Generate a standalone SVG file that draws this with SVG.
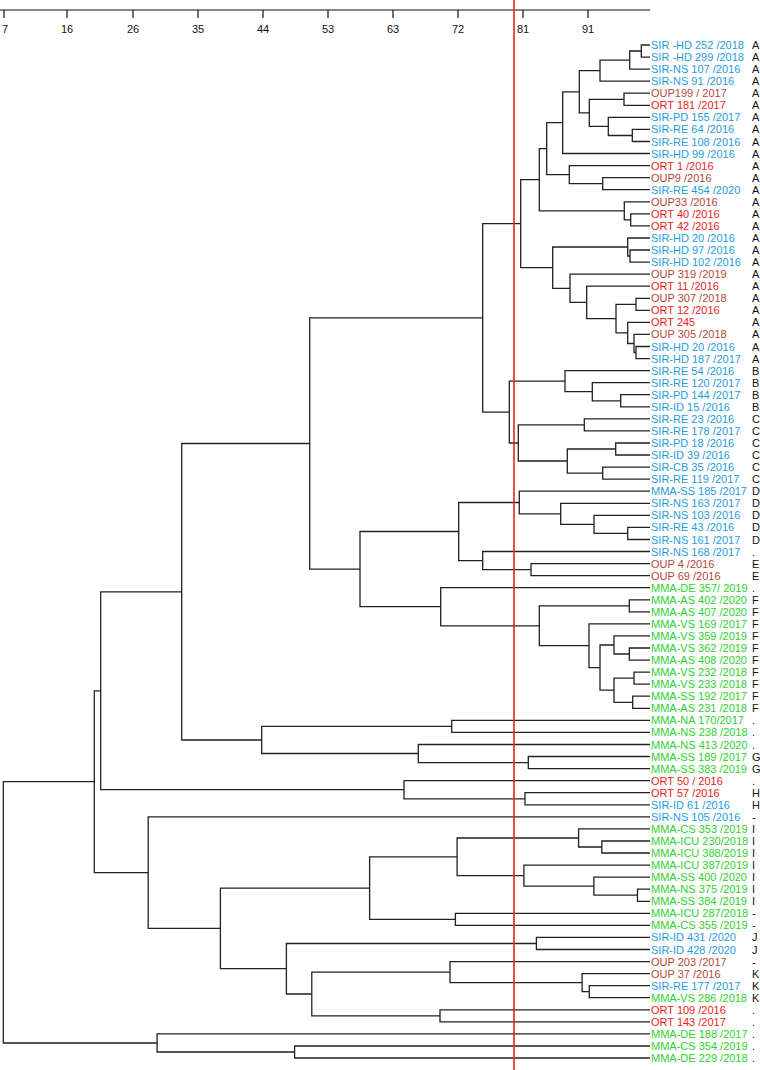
<svg xmlns="http://www.w3.org/2000/svg" width="760" height="1070" viewBox="0 0 760 1070">
<style>
text{font-family:"Liberation Sans",Arial,sans-serif;font-size:11px}
.s{fill:#1f9ce0}.r{fill:#ee1c1c}.o{fill:#b5473a}.m{fill:#2fd12f}.c{fill:#111}
.ax{fill:#111;text-anchor:middle}
.ln path{fill:none;stroke:#222;stroke-width:1.3}
</style>
<rect width="760" height="1070" fill="#fff"/>
<g id="axis" stroke="#111" stroke-width="1.2">
<line x1="0" y1="10" x2="650" y2="10"/>
<path d="M4 10V18M67 10V18M133 10V18M198 10V18M263 10V18M328 10V18M393 10V18M458 10V18M523 10V18M588 10V18" fill="none"/>
</g>
<g id="axis-labels">
<text class="ax" x="5" y="33">7</text><text class="ax" x="67" y="33">16</text><text class="ax" x="133" y="33">26</text><text class="ax" x="198" y="33">35</text><text class="ax" x="263" y="33">44</text><text class="ax" x="328" y="33">53</text><text class="ax" x="393" y="33">63</text><text class="ax" x="458" y="33">72</text><text class="ax" x="523" y="33">81</text><text class="ax" x="588" y="33">91</text>
</g>
<g id="connectors" class="ln">
<path d="M650 45H641.3V57.1H650"/><path d="M641.3 51H629.7V69.1H650"/><path d="M629.7 60.1H600V81.2H650"/>
<path d="M650 93.2H624V105.3H650"/><path d="M650 129.4H632.3V141.5H650"/><path d="M650 117.4H608.3V135.5H632.3"/>
<path d="M624 99.3H589.3V126.4H608.3"/><path d="M600 70.6H579.3V112.9H589.3"/><path d="M579.3 91.8H562.7V153.5H650"/>
<path d="M650 177.7H602.7V189.7H650"/><path d="M650 165.6H569.3V183.7H602.7"/><path d="M562.7 122.6H546.7V174.6H569.3"/>
<path d="M650 213.8H630.7V225.9H650"/><path d="M650 201.8H624.3V219.9H630.7"/><path d="M546.7 148.6H539.3V210.8H624.3"/>
<path d="M650 250H630V262.1H650"/><path d="M650 238H627.7V256H630"/><path d="M650 298.3H636V310.3H650"/>
<path d="M650 346.5H636V358.6H650"/><path d="M650 334.4H634V352.5H636"/><path d="M650 322.4H627.7V343.5H634"/>
<path d="M636 304.3H616V332.9H627.7"/><path d="M650 286.2H586.7V318.6H616"/><path d="M650 274.1H570V302.4H586.7"/>
<path d="M627.7 247H552.7V288.3H570"/><path d="M539.3 179.7H520.7V267.6H552.7"/>
<path d="M650 394.7H620.7V406.8H650"/><path d="M650 382.7H592.3V400.8H620.7"/><path d="M650 370.6H565V391.7H592.3"/>
<path d="M650 418.9H584.3V430.9H650"/><path d="M650 443H615.7V455H650"/><path d="M650 467.1H602.7V479.2H650"/>
<path d="M615.7 449H567.3V473.1H602.7"/><path d="M584.3 424.9H518.3V461H567.3"/><path d="M565 381.2H509.3V443H518.3"/>
<path d="M520.7 223.7H482.7V412.1H509.3"/>
<path d="M650 527.4H627.7V539.5H650"/><path d="M650 515.3H594V533.4H627.7"/><path d="M650 503.3H560.7V524.4H594"/>
<path d="M650 491.2H519.3V513.8H560.7"/><path d="M650 563.6H531V575.6H650"/><path d="M650 551.5H482.7V569.6H531"/>
<path d="M519.3 502.5H458.7V560.6H482.7"/>
<path d="M650 599.8H629.3V611.8H650"/><path d="M650 648H629.3V660.1H650"/><path d="M650 635.9H614V654H629.3"/>
<path d="M650 672.1H634V684.2H650"/><path d="M650 696.2H632.7V708.3H650"/><path d="M634 678.1H614V702.3H632.7"/>
<path d="M614 645H600V690.2H614"/><path d="M650 623.9H589V667.6H600"/><path d="M629.3 605.8H539.3V645.7H589"/>
<path d="M650 587.7H440.7V625.8H539.3"/><path d="M458.7 531.5H360V606.7H440.7"/><path d="M482.7 317.9H309.7V569.1H360"/>
<path d="M650 720.4H451.7V732.4H650"/><path d="M650 756.5H528.3V768.6H650"/><path d="M650 744.5H418.3V762.6H528.3"/>
<path d="M451.7 726.4H261.7V753.5H418.3"/><path d="M309.7 443.5H181.7V740H261.7"/>
<path d="M650 792.7H525V804.8H650"/><path d="M650 780.7H404V798.8H525"/><path d="M181.7 591.8H100.7V789.7H404"/>
<path d="M650 841H601.8V853H650"/><path d="M650 828.9H578.6V847H601.8"/><path d="M650 889.2H637.5V901.3H650"/>
<path d="M650 877.1H593.9V895.2H637.5"/><path d="M650 865.1H523.9V886.2H593.9"/><path d="M578.6 838H457.1V875.6H523.9"/>
<path d="M650 913.3H455.4V925.4H650"/><path d="M457.1 856.8H369.6V919.4H455.4"/><path d="M650 937.4H536.4V949.5H650"/>
<path d="M650 985.7H589.3V997.7H650"/><path d="M650 973.6H582.1V991.7H589.3"/><path d="M650 961.6H450V982.7H582.1"/>
<path d="M650 1009.8H440V1021.9H650"/><path d="M450 972.1H311.8V1015.8H440"/><path d="M536.4 943.5H286.4V994H311.8"/>
<path d="M369.6 888.1H220.4V968.7H286.4"/><path d="M650 816.8H148.2V928.4H220.4"/><path d="M100.7 690.8H94.3V872.6H148.2"/>
<path d="M650 1046H294.6V1058H650"/><path d="M650 1033.9H157.1V1052H294.6"/><path d="M94.3 781.7H3.3V1043H157.1"/>
</g>
<line id="cutoff" x1="514" y1="0" x2="514" y2="1070" stroke="#e02626" stroke-width="1.6"/>
<g id="n1"><text class="s" x="651" y="49">SIR -HD 252 /2018</text><text class="c" x="752" y="49">A</text></g>
<g id="n2"><text class="s" x="651" y="61.1">SIR -HD 299 /2018</text><text class="c" x="752" y="61.1">A</text></g>
<g id="n3"><text class="s" x="651" y="73.1">SIR-NS 107 /2016</text><text class="c" x="752" y="73.1">A</text></g>
<g id="n4"><text class="s" x="651" y="85.2">SIR-NS 91 /2016</text><text class="c" x="752" y="85.2">A</text></g>
<g id="n5"><text class="o" x="651" y="97.2">OUP199 / 2017</text><text class="c" x="752" y="97.2">A</text></g>
<g id="n6"><text class="r" x="651" y="109.3">ORT 181 /2017</text><text class="c" x="752" y="109.3">A</text></g>
<g id="n7"><text class="s" x="651" y="121.4">SIR-PD 155 /2017</text><text class="c" x="752" y="121.4">A</text></g>
<g id="n8"><text class="s" x="651" y="133.4">SIR-RE 64 /2016</text><text class="c" x="752" y="133.4">A</text></g>
<g id="n9"><text class="s" x="651" y="145.5">SIR-RE 108 /2016</text><text class="c" x="752" y="145.5">A</text></g>
<g id="n10"><text class="s" x="651" y="157.5">SIR-HD 99 /2016</text><text class="c" x="752" y="157.5">A</text></g>
<g id="n11"><text class="r" x="651" y="169.6">ORT 1 /2016</text><text class="c" x="752" y="169.6">A</text></g>
<g id="n12"><text class="o" x="651" y="181.7">OUP9 /2016</text><text class="c" x="752" y="181.7">A</text></g>
<g id="n13"><text class="s" x="651" y="193.7">SIR-RE 454 /2020</text><text class="c" x="752" y="193.7">A</text></g>
<g id="n14"><text class="o" x="651" y="205.8">OUP33 /2016</text><text class="c" x="752" y="205.8">A</text></g>
<g id="n15"><text class="r" x="651" y="217.8">ORT 40 /2016</text><text class="c" x="752" y="217.8">A</text></g>
<g id="n16"><text class="r" x="651" y="229.9">ORT 42 /2016</text><text class="c" x="752" y="229.9">A</text></g>
<g id="n17"><text class="s" x="651" y="242">SIR-HD 20 /2016</text><text class="c" x="752" y="242">A</text></g>
<g id="n18"><text class="s" x="651" y="254">SIR-HD 97 /2016</text><text class="c" x="752" y="254">A</text></g>
<g id="n19"><text class="s" x="651" y="266.1">SIR-HD 102 /2016</text><text class="c" x="752" y="266.1">A</text></g>
<g id="n20"><text class="o" x="651" y="278.1">OUP 319 /2019</text><text class="c" x="752" y="278.1">A</text></g>
<g id="n21"><text class="r" x="651" y="290.2">ORT 11 /2016</text><text class="c" x="752" y="290.2">A</text></g>
<g id="n22"><text class="o" x="651" y="302.3">OUP 307 /2018</text><text class="c" x="752" y="302.3">A</text></g>
<g id="n23"><text class="r" x="651" y="314.3">ORT 12 /2016</text><text class="c" x="752" y="314.3">A</text></g>
<g id="n24"><text class="r" x="651" y="326.4">ORT 245</text><text class="c" x="752" y="326.4">A</text></g>
<g id="n25"><text class="o" x="651" y="338.4">OUP 305 /2018</text><text class="c" x="752" y="338.4">A</text></g>
<g id="n26"><text class="s" x="651" y="350.5">SIR-HD 20 /2016</text><text class="c" x="752" y="350.5">A</text></g>
<g id="n27"><text class="s" x="651" y="362.6">SIR-HD 187 /2017</text><text class="c" x="752" y="362.6">A</text></g>
<g id="n28"><text class="s" x="651" y="374.6">SIR-RE 54 /2016</text><text class="c" x="752" y="374.6">B</text></g>
<g id="n29"><text class="s" x="651" y="386.7">SIR-RE 120 /2017</text><text class="c" x="752" y="386.7">B</text></g>
<g id="n30"><text class="s" x="651" y="398.7">SIR-PD 144 /2017</text><text class="c" x="752" y="398.7">B</text></g>
<g id="n31"><text class="s" x="651" y="410.8">SIR-ID 15 /2016</text><text class="c" x="752" y="410.8">B</text></g>
<g id="n32"><text class="s" x="651" y="422.9">SIR-RE 23 /2016</text><text class="c" x="752" y="422.9">C</text></g>
<g id="n33"><text class="s" x="651" y="434.9">SIR-RE 178 /2017</text><text class="c" x="752" y="434.9">C</text></g>
<g id="n34"><text class="s" x="651" y="447">SIR-PD 18 /2016</text><text class="c" x="752" y="447">C</text></g>
<g id="n35"><text class="s" x="651" y="459">SIR-ID 39 /2016</text><text class="c" x="752" y="459">C</text></g>
<g id="n36"><text class="s" x="651" y="471.1">SIR-CB 35 /2016</text><text class="c" x="752" y="471.1">C</text></g>
<g id="n37"><text class="s" x="651" y="483.2">SIR-RE 119 /2017</text><text class="c" x="752" y="483.2">C</text></g>
<g id="n38"><text class="s" x="651" y="495.2">MMA-SS 185 /2017</text><text class="c" x="752" y="495.2">D</text></g>
<g id="n39"><text class="s" x="651" y="507.3">SIR-NS 163 /2017</text><text class="c" x="752" y="507.3">D</text></g>
<g id="n40"><text class="s" x="651" y="519.3">SIR-NS 103 /2016</text><text class="c" x="752" y="519.3">D</text></g>
<g id="n41"><text class="s" x="651" y="531.4">SIR-RE 43 /2016</text><text class="c" x="752" y="531.4">D</text></g>
<g id="n42"><text class="s" x="651" y="543.5">SIR-NS 161 /2017</text><text class="c" x="752" y="543.5">D</text></g>
<g id="n43"><text class="s" x="651" y="555.5">SIR-NS 168 /2017</text><text class="c" x="752" y="555.5">.</text></g>
<g id="n44"><text class="o" x="651" y="567.6">OUP 4 /2016</text><text class="c" x="752" y="567.6">E</text></g>
<g id="n45"><text class="o" x="651" y="579.6">OUP 69 /2016</text><text class="c" x="752" y="579.6">E</text></g>
<g id="n46"><text class="m" x="651" y="591.7">MMA-DE 357/ 2019</text><text class="c" x="752" y="591.7">.</text></g>
<g id="n47"><text class="m" x="651" y="603.8">MMA-AS 402 /2020</text><text class="c" x="752" y="603.8">F</text></g>
<g id="n48"><text class="m" x="651" y="615.8">MMA-AS 407 /2020</text><text class="c" x="752" y="615.8">F</text></g>
<g id="n49"><text class="m" x="651" y="627.9">MMA-VS 169 /2017</text><text class="c" x="752" y="627.9">F</text></g>
<g id="n50"><text class="m" x="651" y="639.9">MMA-VS 359 /2019</text><text class="c" x="752" y="639.9">F</text></g>
<g id="n51"><text class="m" x="651" y="652">MMA-VS 362 /2019</text><text class="c" x="752" y="652">F</text></g>
<g id="n52"><text class="m" x="651" y="664.1">MMA-AS 408 /2020</text><text class="c" x="752" y="664.1">F</text></g>
<g id="n53"><text class="m" x="651" y="676.1">MMA-VS 232 /2018</text><text class="c" x="752" y="676.1">F</text></g>
<g id="n54"><text class="m" x="651" y="688.2">MMA-VS 233 /2018</text><text class="c" x="752" y="688.2">F</text></g>
<g id="n55"><text class="m" x="651" y="700.2">MMA-SS 192 /2017</text><text class="c" x="752" y="700.2">F</text></g>
<g id="n56"><text class="m" x="651" y="712.3">MMA-AS 231 /2018</text><text class="c" x="752" y="712.3">F</text></g>
<g id="n57"><text class="m" x="651" y="724.4">MMA-NA 170/2017</text><text class="c" x="752" y="724.4">.</text></g>
<g id="n58"><text class="m" x="651" y="736.4">MMA-NS 238 /2018</text><text class="c" x="752" y="736.4">.</text></g>
<g id="n59"><text class="m" x="651" y="748.5">MMA-NS 413 /2020</text><text class="c" x="752" y="748.5">.</text></g>
<g id="n60"><text class="m" x="651" y="760.5">MMA-SS 189 /2017</text><text class="c" x="752" y="760.5">G</text></g>
<g id="n61"><text class="m" x="651" y="772.6">MMA-SS 383 /2019</text><text class="c" x="752" y="772.6">G</text></g>
<g id="n62"><text class="r" x="651" y="784.7">ORT 50 / 2016</text><text class="c" x="752" y="784.7">.</text></g>
<g id="n63"><text class="r" x="651" y="796.7">ORT 57 /2016</text><text class="c" x="752" y="796.7">H</text></g>
<g id="n64"><text class="s" x="651" y="808.8">SIR-ID 61 /2016</text><text class="c" x="752" y="808.8">H</text></g>
<g id="n65"><text class="s" x="651" y="820.8">SIR-NS 105 /2016</text><text class="c" x="752" y="820.8">-</text></g>
<g id="n66"><text class="m" x="651" y="832.9">MMA-CS 353 /2019</text><text class="c" x="752" y="832.9">I</text></g>
<g id="n67"><text class="m" x="651" y="845">MMA-ICU 230/2018</text><text class="c" x="752" y="845">I</text></g>
<g id="n68"><text class="m" x="651" y="857">MMA-ICU 388/2019</text><text class="c" x="752" y="857">I</text></g>
<g id="n69"><text class="m" x="651" y="869.1">MMA-ICU 387/2019</text><text class="c" x="752" y="869.1">I</text></g>
<g id="n70"><text class="m" x="651" y="881.1">MMA-SS 400 /2020</text><text class="c" x="752" y="881.1">I</text></g>
<g id="n71"><text class="m" x="651" y="893.2">MMA-NS 375 /2019</text><text class="c" x="752" y="893.2">I</text></g>
<g id="n72"><text class="m" x="651" y="905.3">MMA-SS 384 /2019</text><text class="c" x="752" y="905.3">I</text></g>
<g id="n73"><text class="m" x="651" y="917.3">MMA-ICU 287/2018</text><text class="c" x="752" y="917.3">-</text></g>
<g id="n74"><text class="m" x="651" y="929.4">MMA-CS 355 /2019</text><text class="c" x="752" y="929.4">-</text></g>
<g id="n75"><text class="s" x="651" y="941.4">SIR-ID 431 /2020</text><text class="c" x="752" y="941.4">J</text></g>
<g id="n76"><text class="s" x="651" y="953.5">SIR-ID 428 /2020</text><text class="c" x="752" y="953.5">J</text></g>
<g id="n77"><text class="o" x="651" y="965.6">OUP 203 /2017</text><text class="c" x="752" y="965.6">-</text></g>
<g id="n78"><text class="o" x="651" y="977.6">OUP 37 /2016</text><text class="c" x="752" y="977.6">K</text></g>
<g id="n79"><text class="s" x="651" y="989.7">SIR-RE 177 /2017</text><text class="c" x="752" y="989.7">K</text></g>
<g id="n80"><text class="m" x="651" y="1001.7">MMA-VS 286 /2018</text><text class="c" x="752" y="1001.7">K</text></g>
<g id="n81"><text class="r" x="651" y="1013.8">ORT 109 /2016</text><text class="c" x="752" y="1013.8">.</text></g>
<g id="n82"><text class="r" x="651" y="1025.9">ORT 143 /2017</text><text class="c" x="752" y="1025.9">.</text></g>
<g id="n83"><text class="m" x="651" y="1037.9">MMA-DE 188 /2017</text><text class="c" x="752" y="1037.9">.</text></g>
<g id="n84"><text class="m" x="651" y="1050">MMA-CS 354 /2019</text><text class="c" x="752" y="1050">.</text></g>
<g id="n85"><text class="m" x="651" y="1062">MMA-DE 229 /2018</text><text class="c" x="752" y="1062">.</text></g>
</svg>
